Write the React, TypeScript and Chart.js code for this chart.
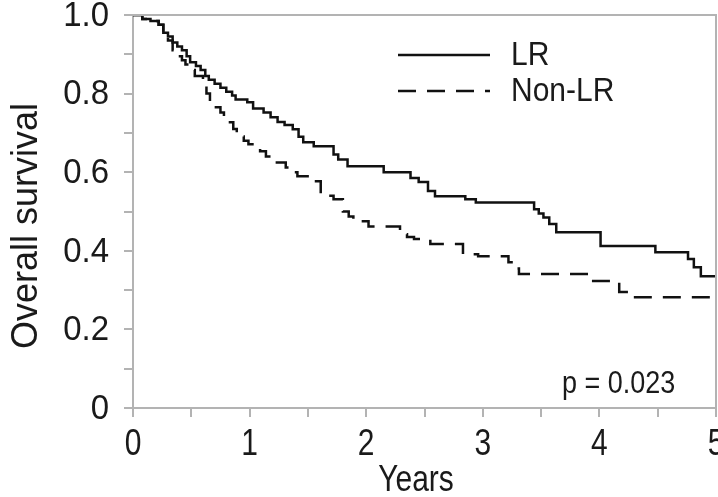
import React, { useEffect, useRef } from "react";
import { Chart, registerables } from "chart.js";

Chart.register(...registerables);

// Kaplan–Meier steps: time (years) and survival after the step
const lrYears = [0, 0.08, 0.15, 0.22, 0.26, 0.3, 0.34, 0.38, 0.42, 0.46, 0.49, 0.54, 0.58, 0.62, 0.65, 0.7, 0.75, 0.8, 0.85, 0.88, 0.98, 1.03, 1.12, 1.18, 1.24, 1.3, 1.37, 1.42, 1.46, 1.55, 1.72, 1.76, 1.84, 2.15, 2.38, 2.45, 2.53, 2.59, 2.85, 2.94, 3.44, 3.48, 3.52, 3.57, 3.63, 4.01, 4.48, 4.76, 4.81, 4.87, 5.0];
const lrSurvival = [1.0, 0.99, 0.985, 0.975, 0.955, 0.945, 0.93, 0.92, 0.91, 0.895, 0.88, 0.87, 0.86, 0.845, 0.835, 0.825, 0.815, 0.805, 0.795, 0.785, 0.778, 0.762, 0.752, 0.74, 0.728, 0.72, 0.709, 0.69, 0.676, 0.666, 0.645, 0.632, 0.615, 0.6, 0.585, 0.575, 0.552, 0.539, 0.531, 0.523, 0.506, 0.495, 0.485, 0.468, 0.447, 0.412, 0.396, 0.379, 0.358, 0.335, 0.335];

const nonLrYears = [0, 0.08, 0.15, 0.22, 0.26, 0.3, 0.34, 0.38, 0.42, 0.45, 0.5, 0.53, 0.6, 0.63, 0.66, 0.7, 0.75, 0.78, 0.82, 0.86, 0.89, 0.95, 0.99, 1.05, 1.09, 1.14, 1.18, 1.31, 1.36, 1.41, 1.55, 1.61, 1.72, 1.8, 1.85, 1.89, 2.02, 2.29, 2.35, 2.41, 2.55, 2.83, 2.96, 3.22, 3.28, 3.31, 3.93, 4.17, 4.25, 4.29, 5.0];
const nonLrSurvival = [1.0, 0.99, 0.985, 0.975, 0.955, 0.935, 0.91, 0.895, 0.885, 0.874, 0.86, 0.845, 0.823, 0.8, 0.78, 0.765, 0.752, 0.74, 0.727, 0.71, 0.691, 0.68, 0.671, 0.66, 0.653, 0.64, 0.625, 0.612, 0.6, 0.59, 0.577, 0.54, 0.531, 0.5, 0.487, 0.475, 0.462, 0.442, 0.435, 0.43, 0.417, 0.391, 0.386, 0.371, 0.355, 0.341, 0.323, 0.295, 0.288, 0.282, 0.282];

const seriesNames = ["LR", "Non-LR"];
const xTickValues = [0, 1, 2, 3, 4, 5];
const xTickLabels = ["0", "1", "2", "3", "4", "5"];
const yTickValues = [0, 0.2, 0.4, 0.6, 0.8, 1.0];
const yTickLabels = ["0", "0.2", "0.4", "0.6", "0.8", "1.0"];
const xTitle = "Years";
const yTitle = "Overall survival";
const pValueText = "p = 0.023";

const FONT = "'Liberation Sans', Arial, Helvetica, sans-serif";
const TEXT = "#1a1a1a";
const AXIS = "#b3b3b3";
const LINE = "#111111";
const DASH = [18, 11];

// draw text with a slight vertical stretch (the reference glyphs are tall)
function tallText(
  ctx: CanvasRenderingContext2D,
  text: string,
  x: number,
  y: number,
  size: number,
  sy: number,
  align: CanvasTextAlign
) {
  ctx.save();
  ctx.translate(x, y);
  ctx.scale(1, sy);
  ctx.font = `${size}px ${FONT}`;
  ctx.textAlign = align;
  ctx.textBaseline = "middle";
  ctx.fillStyle = TEXT;
  ctx.fillText(text, 0, 0);
  ctx.restore();
}

const overlay = {
  id: "overlay",
  afterDraw(chart: any) {
    const ctx = chart.ctx as CanvasRenderingContext2D;
    const { left, right, top, bottom } = chart.chartArea;
    const xs = chart.scales.x;
    const ys = chart.scales.y;
    ctx.save();
    // top and right frame
    ctx.strokeStyle = AXIS;
    ctx.lineWidth = 2;
    ctx.beginPath();
    ctx.moveTo(left, top);
    ctx.lineTo(right, top);
    ctx.lineTo(right, bottom);
    ctx.stroke();

    // tick labels from the scales
    xTickValues.forEach((v, i) => {
      tallText(ctx, xTickLabels[i], xs.getPixelForValue(v), 445, 30, 1.22, "center");
    });
    yTickValues.forEach((v, i) => {
      tallText(ctx, yTickLabels[i], 109, ys.getPixelForValue(v) + 1, 33, 1.08, "right");
    });

    // y title
    ctx.save();
    ctx.translate(27, 226);
    ctx.rotate(-Math.PI / 2);
    ctx.textAlign = "center";
    ctx.textBaseline = "middle";
    ctx.fillStyle = TEXT;
    ctx.font = `36px ${FONT}`;
    ctx.fillText(yTitle, 0, 0);
    ctx.restore();

    // x title
    tallText(ctx, xTitle, 416, 481, 30, 1.22, "center");

    // legend
    const legendRows = [55, 91];
    chart.data.datasets.forEach((ds: any, i: number) => {
      const y = legendRows[i];
      ctx.strokeStyle = ds.borderColor;
      ctx.lineWidth = ds.borderWidth;
      ctx.setLineDash(ds.borderDash || []);
      ctx.beginPath();
      ctx.moveTo(398, y);
      ctx.lineTo(490, y);
      ctx.stroke();
      ctx.setLineDash([]);
      tallText(ctx, ds.label, 511, y + 1, 30, 1.1, "left");
    });

    // p-value
    tallText(ctx, pValueText, 562, 384, 27, 1.15, "left");
    ctx.restore();
  },
};

export default function App() {
  const ref = useRef<HTMLCanvasElement | null>(null);

  useEffect(() => {
    const canvas = ref.current;
    if (!canvas) return;
    const chart = new Chart(canvas, {
      type: "line",
      data: {
        datasets: [
          {
            label: seriesNames[0],
            data: lrYears.map((x, i) => ({ x, y: lrSurvival[i] })),
            borderColor: LINE,
            borderWidth: 2.5,
            pointRadius: 0,
            stepped: true,
            fill: false,
          },
          {
            label: seriesNames[1],
            data: nonLrYears.map((x, i) => ({ x, y: nonLrSurvival[i] })),
            borderColor: LINE,
            borderWidth: 2.5,
            borderDash: DASH,
            pointRadius: 0,
            stepped: true,
            fill: false,
          },
        ],
      },
      options: {
        animation: false,
        responsive: false,
        maintainAspectRatio: false,
        layout: { padding: { top: 15, right: 2, left: 0, bottom: 0 } },
        plugins: { legend: { display: false }, tooltip: { enabled: false } },
        scales: {
          x: {
            type: "linear",
            min: 0,
            max: 5,
            ticks: { stepSize: 0.5, autoSkip: false, maxRotation: 0, display: false },
            grid: { drawOnChartArea: false, drawTicks: true, tickLength: 9, color: AXIS, lineWidth: 2 },
            border: { display: true, color: AXIS, width: 2 },
            afterFit: (s: any) => {
              s.height = 89;
              s.paddingRight = 0;
              s.paddingLeft = 0;
            },
          },
          y: {
            min: 0,
            max: 1,
            ticks: { stepSize: 0.1, autoSkip: false, display: false },
            grid: { drawOnChartArea: false, drawTicks: true, tickLength: 9, color: AXIS, lineWidth: 2 },
            border: { display: true, color: AXIS, width: 2 },
            afterFit: (s: any) => {
              s.width = 133;
              s.paddingTop = 0;
              s.paddingBottom = 0;
            },
          },
        },
      },
      plugins: [overlay],
    });
    return () => chart.destroy();
  }, []);

  return (
    <div style={{ position: "absolute", left: 0, top: 0, width: 718, height: 497, background: "#fff" }}>
      <canvas ref={ref} width={718} height={497} style={{ width: 718, height: 497, display: "block" }} />
    </div>
  );
}
